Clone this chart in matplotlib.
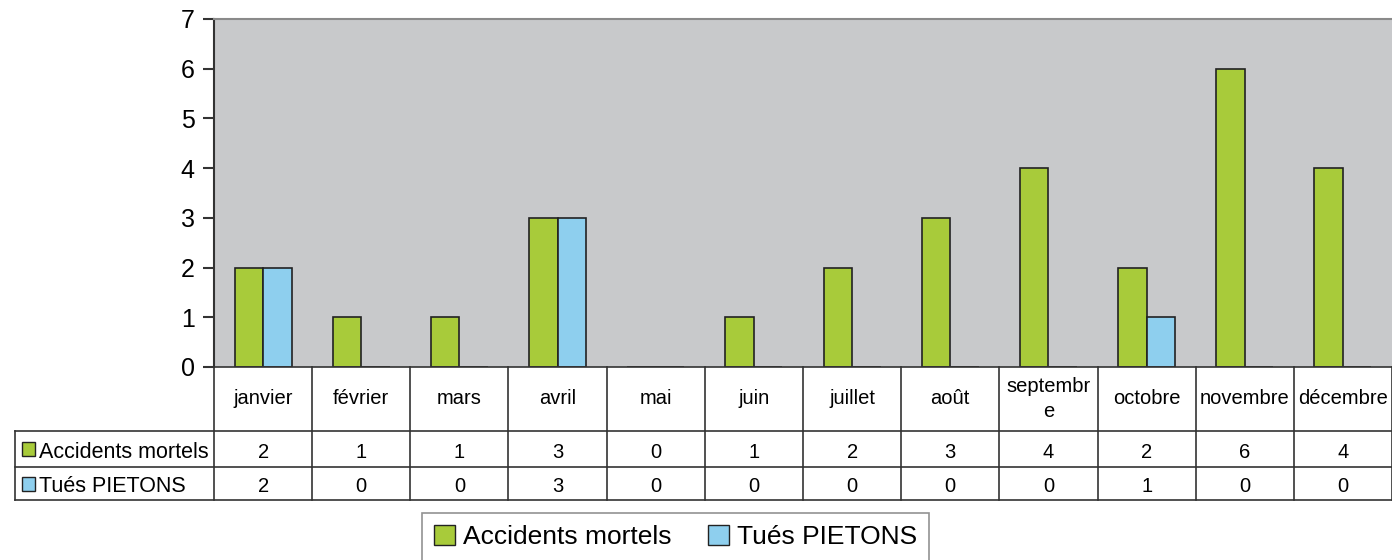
import numpy as np
import matplotlib
matplotlib.use("Agg")
import matplotlib.pyplot as plt
from matplotlib.patches import Patch

plt.rcParams['font.family'] = ['Liberation Sans', 'DejaVu Sans']

# donnees
mois = ['janvier', 'février', 'mars', 'avril', 'mai', 'juin', 'juillet',
        'août', 'septembr\ne', 'octobre', 'novembre', 'décembre']
accidents = [2, 1, 1, 3, 0, 1, 2, 3, 4, 2, 6, 4]
pietons = [2, 0, 0, 3, 0, 0, 0, 0, 0, 1, 0, 0]
series = ['Accidents mortels', 'Tués PIETONS']
couleurs = ['#A8CB3A', '#8ECFEE']

W, H = 1392, 560
fig = plt.figure(figsize=(W / 100, H / 100), dpi=100)

# zone du graphique (en pixels)
x0, x1 = 214, 1392
y_top, y_bot = 19, 367
ax = fig.add_axes([x0 / W, 1 - y_bot / H, (x1 - x0) / W, (y_bot - y_top) / H])
ax.set_facecolor('#C8C9CB')

x = np.arange(len(mois))
w = 0.29
ax.bar(x - w / 2, accidents, w, color=couleurs[0], edgecolor='#222222', linewidth=1.2)
ax.bar(x + w / 2, pietons, w, color=couleurs[1], edgecolor='#222222', linewidth=1.2)

ax.set_xlim(-0.5, len(mois) - 0.5)
ax.set_ylim(0, 7)
ax.set_yticks(range(8))
ax.tick_params(axis='y', labelsize=18, length=8, width=1.5, color='#333333', pad=6)
ax.set_xticks([])
ax.spines['left'].set_color('#333333')
ax.spines['left'].set_linewidth(1.5)
ax.spines['top'].set_color('#8a8a8a')
ax.spines['top'].set_linewidth(1.5)
ax.spines['right'].set_visible(False)
ax.spines['bottom'].set_color('#333333')
ax.spines['bottom'].set_linewidth(1.2)

# tableau de donnees sous le graphique
tx0 = 15
t_bot = 500
cat_px = (x1 - x0) / len(mois)
left_lim = -0.5 - (x0 - tx0) / cat_px
tab = fig.add_axes([tx0 / W, 1 - t_bot / H, (x1 - tx0) / W, (t_bot - y_bot) / H])
tab.set_xlim(left_lim, len(mois) - 0.5)
tab.set_ylim(0, t_bot - y_bot)
tab.axis('off')

lc = '#333333'
r1, r2 = t_bot - 431, t_bot - 467   # 69, 33
top = t_bot - y_bot
for b in np.arange(-0.5, len(mois) + 0.5, 1):
    tab.plot([b, b], [0, top], color=lc, lw=1.2, clip_on=False)
tab.plot([left_lim, left_lim], [0, r1], color=lc, lw=1.2, clip_on=False)
for yy in (r1, r2, 0):
    tab.plot([left_lim, len(mois) - 0.5], [yy, yy], color=lc, lw=1.2, clip_on=False)

dy = 3  # petit decalage vers le bas du texte
for i, m in enumerate(mois):
    tab.text(i, (top + r1) / 2, m, ha='center', va='center', fontsize=14.5,
             linespacing=1.45)
    tab.text(i, (r1 + r2) / 2 - dy, str(accidents[i]), ha='center', va='center', fontsize=14.5)
    tab.text(i, r2 / 2 - dy, str(pietons[i]), ha='center', va='center', fontsize=14.5)

for k, (yy, lab) in enumerate([((r1 + r2) / 2, series[0]), (r2 / 2, series[1])]):
    xs = left_lim + 7 / cat_px
    tab.add_patch(plt.Rectangle((xs, yy - 7), 13 / cat_px, 14, facecolor=couleurs[k],
                                edgecolor='#222222', lw=1.0, clip_on=False))
    tab.text(xs + 17 / cat_px, yy - dy, lab, ha='left', va='center', fontsize=15.5)

# legende
handles = [Patch(facecolor=couleurs[0], edgecolor='#222222', label=series[0]),
           Patch(facecolor=couleurs[1], edgecolor='#222222', label=series[1])]
leg = fig.legend(handles=handles, loc='upper left', ncol=2,
                 bbox_to_anchor=(422 / W, 1 - 513 / H), fontsize=19,
                 frameon=True, fancybox=False, edgecolor='#777777',
                 handlelength=0.8, handleheight=0.8, handletextpad=0.3,
                 columnspacing=1.4, borderpad=0.45, borderaxespad=0)
leg.get_frame().set_linewidth(1.2)

fig.savefig('out.png', dpi=100)
